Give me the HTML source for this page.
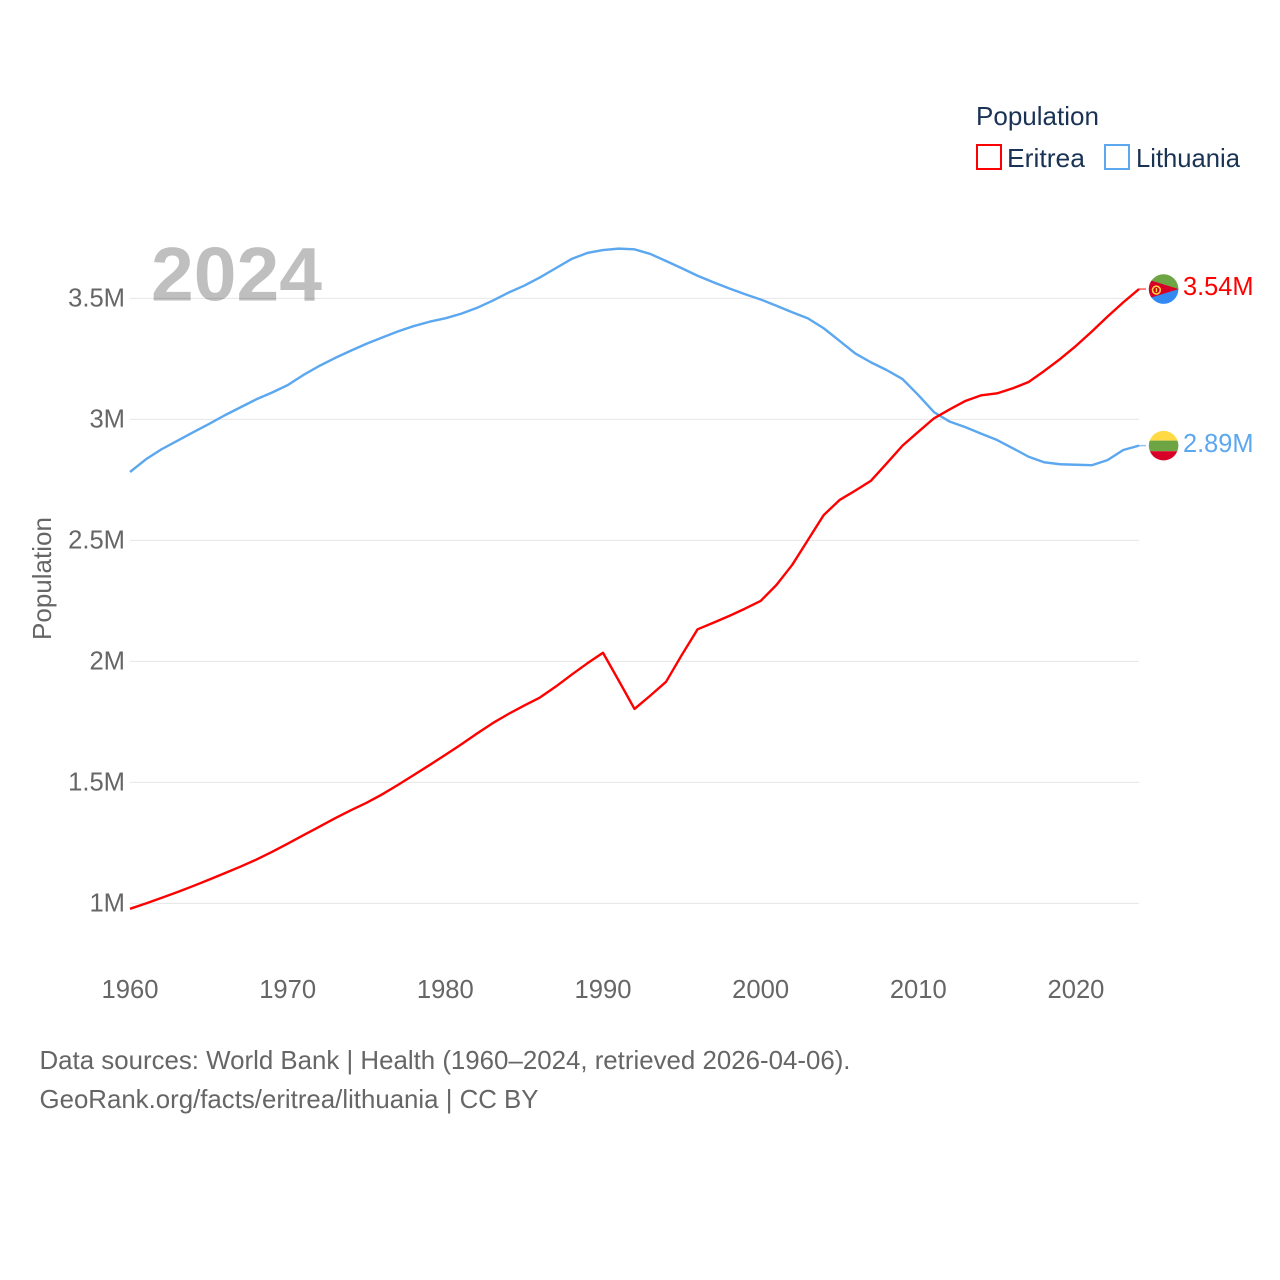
<!DOCTYPE html>
<html lang="en">
<head>
<meta charset="utf-8">
<title>Population: Eritrea and Lithuania</title>
<style>
  html, body { margin: 0; padding: 0; background: #fff; }
  svg { display: block; font-family: "Liberation Sans", sans-serif; }
  .tick { font-size: 25.6px; fill: #666; }
  .foot { font-size: 25.6px; fill: #666; }
  .leg { font-size: 26px; fill: #1a3355; }
</style>
</head>
<body>
<svg id="chart" xmlns="http://www.w3.org/2000/svg" width="1280" height="1280" viewBox="0 0 1280 1280">
  <rect x="0" y="0" width="1280" height="1280" fill="#fff"/>
  <g id="grid"></g>
  <g id="ytick-layer"></g>
  <g id="xtick-layer"></g>
  <text class="tick" transform="translate(51,640) rotate(-90)" textLength="123" lengthAdjust="spacingAndGlyphs">Population</text>
  <text x="151" y="300.500" font-size="76" font-weight="700" fill="#000" fill-opacity="0.25" textLength="171" lengthAdjust="spacingAndGlyphs">2024</text>
  <g id="series-layer"></g>

  <g transform="translate(0,0)" id="flag-eritrea">
    <clipPath id="clip-er"><circle cx="1163.6" cy="0" r="14.8"/></clipPath>
    <g clip-path="url(#clip-er)">
      <rect x="1148" y="-16" width="32" height="16" fill="#6da544"/>
      <rect x="1148" y="0" width="32" height="16" fill="#338af3"/>
      <polygon points="1140,-12 1178.6,0 1140,12" fill="#d80027"/>
      <circle cx="1156.4" cy="1" r="3.9" fill="none" stroke="#ffda44" stroke-width="1.5"/>
      <rect x="1155.8" y="-1" width="1.3" height="4" fill="#ffda44"/>
    </g>
  </g>
  <g id="flag-lithuania">
    <clipPath id="clip-lt"><circle cx="1163.6" cy="0" r="14.8"/></clipPath>
    <g clip-path="url(#clip-lt)">
      <rect x="1148" y="-16" width="32" height="11" fill="#ffda44"/>
      <rect x="1148" y="-5" width="32" height="10.6" fill="#6da544"/>
      <rect x="1148" y="5.6" width="32" height="11" fill="#d80027"/>
    </g>
  </g>
  <g id="end-label-layer"></g>

  <g>
    <text class="leg" x="976" y="125" textLength="123" lengthAdjust="spacingAndGlyphs">Population</text>
    <g>
      <rect x="977" y="145" width="24" height="24" fill="#fff" stroke="#ff0000" stroke-width="2"/>
      <text class="leg" x="1007" y="167" textLength="78" lengthAdjust="spacingAndGlyphs">Eritrea</text>
    </g>
    <g>
      <rect x="1105" y="145" width="24" height="24" fill="#fff" stroke="#5ba7f0" stroke-width="2"/>
      <text class="leg" x="1136" y="167" textLength="104" lengthAdjust="spacingAndGlyphs">Lithuania</text>
    </g>
  </g>

  <text class="foot" x="39.500" y="1069" textLength="811" lengthAdjust="spacingAndGlyphs">Data sources: World Bank | Health (1960–2024, retrieved 2026-04-06).</text>
  <text class="foot" x="39.500" y="1108" textLength="499" lengthAdjust="spacingAndGlyphs">GeoRank.org/facts/eritrea/lithuania | CC BY</text>
</svg>

<script>
const startYear = 1960;
const xTickYears = [1960, 1970, 1980, 1990, 2000, 2010, 2020];
const xTickLabels = ["1960", "1970", "1980", "1990", "2000", "2010", "2020"];
const yTickValues = [1000, 1500, 2000, 2500, 3000, 3500];
const yTickLabels = ["1M", "1.5M", "2M", "2.5M", "3M", "3.5M"];
const seriesNames = ["Eritrea", "Lithuania"];
// Population in thousands, 1960-2024
const eritreaValues = [976,998,1021,1045,1070,1096,1123,1150,1179,1211,
  1245,1280,1315,1350,1383,1414,1449,1488,1529,1570,
  1612,1655,1700,1743,1781,1816,1849,1894,1943,1990,
  2034,1919,1802,1857,1914,2025,2131,2158,2186,2216,
  2248,2314,2397,2500,2603,2665,2704,2745,2817,2890,
  2947,3003,3040,3075,3098,3106,3127,3153,3199,3248,
  3302,3361,3423,3482,3537];
const lithuaniaValues = [2781,2833,2875,2910,2945,2979,3015,3048,3081,3109,
  3140,3182,3219,3252,3282,3311,3337,3362,3384,3402,
  3416,3435,3459,3489,3522,3551,3585,3623,3661,3686,
  3698,3704,3701,3682,3653,3623,3592,3565,3540,3516,
  3494,3468,3441,3416,3375,3323,3271,3234,3202,3165,
  3099,3028,2989,2966,2939,2913,2879,2844,2821,2813,
  2811,2809,2830,2872,2890];

const SVG_NS = "http://www.w3.org/2000/svg";
const xScale = function (year) { return 130 + (year - startYear) * 15.766; };
const yScale = function (v) { return 903 - (v - 1000) * 0.242; };
const make = function (tag, parent) {
  const el = document.createElementNS(SVG_NS, tag);
  parent.appendChild(el);
  return el;
};

const gridLayer = document.getElementById("grid");
const yLayer = document.getElementById("ytick-layer");
yTickValues.forEach(function (v, i) {
  const line = make("line", gridLayer);
  
  
  line.setAttribute("x1", 130);
  line.setAttribute("x2", 1139);
  line.setAttribute("y1", yScale(v) + 0.4);
  line.setAttribute("y2", yScale(v) + 0.4);
  line.setAttribute("stroke", "#e6e6e6");
  line.setAttribute("stroke-width", "1");
  const label = make("text", yLayer);
  
  
  label.setAttribute("class", "tick");
  label.setAttribute("x", 125);
  label.setAttribute("y", yScale(v) + 8.5);
  label.setAttribute("text-anchor", "end");
  label.textContent = yTickLabels[i];
});

const xLayer = document.getElementById("xtick-layer");
xTickYears.forEach(function (yr, i) {
  const label = make("text", xLayer);
  
  
  label.setAttribute("class", "tick");
  label.setAttribute("x", xScale(yr));
  label.setAttribute("y", 998);
  label.setAttribute("text-anchor", "middle");
  label.textContent = xTickLabels[i];
});

const seriesLayer = document.getElementById("series-layer");
const labelLayer = document.getElementById("end-label-layer");
const formatM = function (v) { return (v / 1000).toFixed(2) + "M"; };

const drawSeries = function (values, color, flagId) {
  const d = values.map(function (v, i) {
    return (i ? "L" : "M") + xScale(startYear + i).toFixed(2) + " " + yScale(v).toFixed(2);
  }).join(" ");
  const path = make("path", seriesLayer);
  
  
  path.setAttribute("d", d);
  path.setAttribute("fill", "none");
  path.setAttribute("stroke", color);
  path.setAttribute("stroke-width", "2.4");
  path.setAttribute("stroke-linejoin", "round");

  const last = values[values.length - 1];
  const endX = xScale(startYear + values.length - 1);
  const endY = yScale(last);
  const stub = make("line", seriesLayer);
  
  
  stub.setAttribute("x1", endX);
  stub.setAttribute("x2", endX + 7);
  stub.setAttribute("y1", endY);
  stub.setAttribute("y2", endY);
  stub.setAttribute("stroke", color);
  stub.setAttribute("stroke-opacity", "0.7");
  stub.setAttribute("stroke-width", "1.4");

  document.getElementById(flagId).setAttribute("transform", "translate(0," + endY + ")");

  const label = make("text", labelLayer);
  
  
  label.setAttribute("x", 1183);
  label.setAttribute("y", endY + 6.2);
  label.setAttribute("font-size", "25.6");
  label.setAttribute("fill", color);
  label.setAttribute("textLength", "70.5");
  label.setAttribute("lengthAdjust", "spacingAndGlyphs");
  label.textContent = formatM(last);
};

drawSeries(lithuaniaValues, "#5ba7f0", "flag-lithuania");
drawSeries(eritreaValues, "#ff0000", "flag-eritrea");
</script>
</body>
</html>
